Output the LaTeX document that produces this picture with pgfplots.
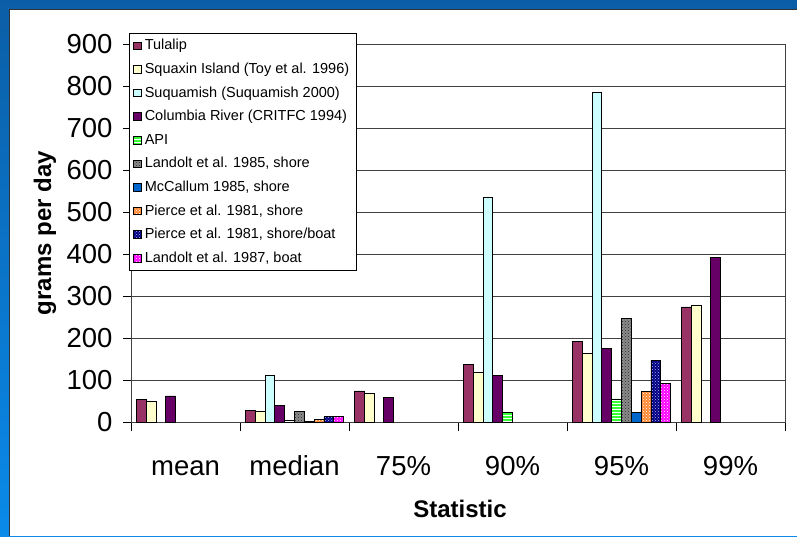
\documentclass[border=0pt]{standalone}
\usepackage{pgfplots}
\pgfplotsset{compat=1.18}
\usetikzlibrary{patterns}
\usepackage{fontspec}
\setmainfont{Liberation Sans}
\definecolor{cTul}{HTML}{993366}
\definecolor{cSqx}{HTML}{FFFFCC}
\definecolor{cSuq}{HTML}{CCFFFF}
\definecolor{cCol}{HTML}{660066}
\definecolor{cAPI}{HTML}{33FF33}
\definecolor{cLan}{HTML}{8C8C8C}
\definecolor{cMcC}{HTML}{0066CC}
\definecolor{cPiS}{HTML}{FF8833}
\definecolor{cPiB}{HTML}{000080}
\definecolor{cL87}{HTML}{FF00FF}
\definecolor{gridc}{HTML}{404040}
\definecolor{bgtop}{HTML}{0B5EA6}
\definecolor{bgbot}{HTML}{0A8AEA}
\pgfplotsset{sqlegend/.style={legend image code/.code={\draw[##1] (0pt,-3.8pt) rectangle (7.6pt,3.8pt);}}}
\begin{document}
\begin{tikzpicture}[x=1pt,y=1pt]
\useasboundingbox (0,0) rectangle (797,536);
\shade[top color=bgtop, bottom color=bgbot] (0,0) rectangle (797,536);
\fill[white] (9,0) rectangle (797,527);
\draw[black!80, line width=1.2pt] (9.5,0) -- (9.5,526.5) -- (797,526.5);
\begin{axis}[
  at={(131pt,114pt)}, anchor=south west,
  width=654pt, height=378pt, scale only axis,
  ymin=0, ymax=900, ytick={0,100,...,900},
  xmin=-0.5, xmax=5.5,
  xtick={0,...,5},
  xticklabels={mean,median,75\%,90\%,95\%,99\%},
  minor xtick={-0.5,0.5,...,5.5},
  major x tick style={draw=none},
  minor x tick style={draw=black, line width=0.75pt},
  major y tick style={draw=black, line width=0.75pt},
  tick align=outside, tick pos=left,
  major tick length=8pt, minor tick length=9pt,
  ybar=0pt, bar width=0.09,
  ymajorgrids, grid style={draw=gridc, line width=0.75pt},
  axis line style={draw=gridc, line width=0.75pt},
  /pgf/number format/assume math mode=true,
  ticklabel style={font=\fontsize{27.5}{32}\selectfont},
  yticklabel style={anchor=east, xshift=-7pt},
  xticklabel style={anchor=base, yshift=-45pt},
  xlabel={Statistic},
  ylabel={grams per day},
  xlabel style={font=\bfseries\fontsize{24}{28}\selectfont, at={(rel axis cs:0.5,0)}, anchor=center, yshift=-87pt, xshift=2pt},
  ylabel style={font=\bfseries\fontsize{24}{28}\selectfont, at={(rel axis cs:0,0.5)}, anchor=center, yshift=86pt},
  legend style={at={(0,1)}, anchor=north west, xshift=-2pt, yshift=11pt,
    draw=black, fill=white, line width=0.75pt,
    font=\fontsize{14.5}{16}\selectfont, inner sep=4pt, row sep=6.6pt,
    nodes={inner xsep=3pt, inner ysep=1.5pt, text height=11pt, text depth=3pt}},
  legend cell align=left,
  every axis plot/.append style={draw=black, line width=0.8pt},
]
\addplot[fill=cTul, sqlegend] coordinates {(0,53) (1,28) (2,74) (3,138) (4,191) (5,274)};
\addlegendentry{Tulalip}
\addplot[fill=cSqx, sqlegend] coordinates {(0,50) (1,25) (2,69) (3,117) (4,164) (5,278)};
\addlegendentry{Squaxin Island (Toy et al. 1996)}
\addplot[fill=cSuq, sqlegend] coordinates {(1,110) (3,535) (4,785)};
\addlegendentry{Suquamish (Suquamish 2000)}
\addplot[fill=cCol, sqlegend] coordinates {(0,62) (1,39) (2,58) (3,111) (4,176) (5,391)};
\addlegendentry{Columbia River (CRITFC 1994)}
\addplot[fill=cAPI, postaction={pattern=horizontal lines, pattern color=white}, sqlegend] coordinates {(1,4) (3,23) (4,55)};
\addlegendentry{API}
\addplot[fill=cLan, postaction={pattern=crosshatch dots, pattern color=black!85}, sqlegend] coordinates {(1,26) (4,246)};
\addlegendentry{Landolt et al. 1985, shore}
\addplot[fill=cMcC, sqlegend] coordinates {(1,1.5) (4,22.5)};
\addlegendentry{McCallum 1985, shore}
\addplot[fill=cPiS, postaction={pattern=crosshatch dots, pattern color=white}, sqlegend] coordinates {(1,7) (4,73)};
\addlegendentry{Pierce et al. 1981, shore}
\addplot[fill=cPiB, postaction={pattern=crosshatch dots, pattern color=white!70!blue}, sqlegend] coordinates {(1,12.5) (4,147)};
\addlegendentry{Pierce et al. 1981, shore/boat}
\addplot[fill=cL87, postaction={pattern=crosshatch dots, pattern color=white}, sqlegend] coordinates {(1,12.5) (4,92)};
\addlegendentry{Landolt et al. 1987, boat}
\end{axis}
\end{tikzpicture}
\end{document}
